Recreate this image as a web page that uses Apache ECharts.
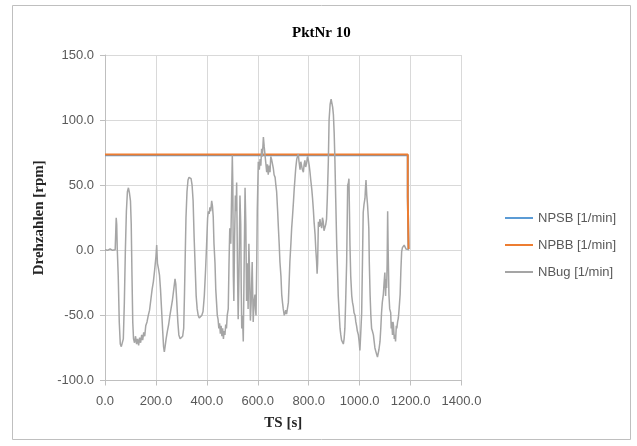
<!DOCTYPE html>
<html>
<head>
<meta charset="utf-8">
<script src="https://cdn.jsdelivr.net/npm/echarts@6/dist/echarts.min.js"></script>
<style>
html,body{margin:0;padding:0;background:#fff;}
#chart{width:637px;height:446px;}
</style>
</head>
<body>
<div id="chart"></div>
<script>
// ---- data ----
var titleText = 'PktNr 10';
var seriesNames = ['NPSB [1/min]', 'NPBB [1/min]', 'NBug [1/min]'];
var xTicks = [0, 200, 400, 600, 800, 1000, 1200, 1400];
var yTicks = [-100, -50, 0, 50, 100, 150];

var npsbT = [0, 1189, 1189, 1192, 1192];
var npsbV = [73.0, 73.0, 41, 41, 1];
var npbbT = [0, 1189, 1189, 1192, 1192];
var npbbV = [73.5, 73.5, 41, 41, 1];

var nbugT = [0,10,20,30,40,43,44,46,48,52,56,60,64,68,72,76,80,84,88,92,96,100,103,106,109,112,116,120,124,128,132,136,140,144,148,152,156,160,165,170,175,180,185,190,195,200,203,206,210,214,218,222,226,230,233,236,240,245,250,255,260,265,270,275,278,282,286,290,295,300,305,309,312,315,318,322,326,330,334,338,342,346,350,354,358,362,366,370,375,380,385,390,395,399,403,406,409,412,415,419,422,425,428,432,435,438,441,444,447,450,453,456,459,462,465,468,471,474,477,480,484,487,490,494,497,500,502,504,506,509,512,515,517,520,523,526,530,533,535,537,540,543,546,550,553,556,559,562,565,568,571,574,578,582,585,589,591,593,596,598,602,606,609,612,615,618,622,625,628,631,635,638,641,645,648,651,654,658,661,664,668,671,674,678,681,684,687,691,694,697,700,704,707,710,713,717,720,723,726,730,733,736,740,743,746,749,753,756,759,762,766,769,772,775,779,782,785,788,792,795,798,802,805,808,812,815,818,821,825,828,831,833,835,838,841,844,847,851,854,857,860,864,867,870,873,877,880,884,888,891,894,897,900,903,906,910,913,916,920,923,926,929,933,936,939,942,945,949,951,953,956,958,960,962,965,969,972,975,978,982,985,988,991,995,998,1001,1004,1008,1011,1014,1017,1021,1023,1025,1028,1031,1034,1036,1038,1041,1044,1047,1050,1054,1057,1060,1064,1067,1070,1073,1076,1080,1083,1086,1089,1093,1096,1099,1102,1104,1106,1108,1110,1112,1115,1118,1122,1124,1126,1129,1131,1133,1136,1139,1141,1144,1146,1149,1152,1155,1159,1162,1165,1168,1172,1175,1178,1182,1185,1188,1191,1193];
var nbugV = [0.5,0,1,0,0.5,1,25,20,2,-20,-55,-72,-74,-73,-68,-40,0,30,45,48,44,38,20,-20,-55,-68,-71,-66,-72,-68,-73,-67,-71,-65,-69,-63,-66,-58,-55,-50,-46,-38,-30,-24,-15,-5,4,-10,-14,-19,-30,-45,-60,-74,-78,-74,-68,-62,-57,-50,-44,-38,-30,-22,-26,-40,-55,-65,-68,-67,-66,-60,-35,-5,25,45,54,56,56,55,50,38,10,-12,-35,-45,-50,-52,-52,-50,-47,-35,-15,4,25,30,28,33,30,38,34,26,5,-10,-30,-40,-50,-53,-60,-56,-64,-58,-66,-60,-68,-62,-65,-57,-60,-50,-45,-10,17,5,40,73,50,-20,-39,10,42,30,52,-10,-53,-20,42,20,-30,-60,-50,-70,-20,48,20,-39,-10,-45,5,-20,-54,-40,-9,-55,-40,-34,-45,-50,-9,30,68,62,70,65,78,72,87,80,74,68,60,66,58,65,60,72,70,66,63,58,56,50,45,30,17,5,-9,-20,-34,-40,-45,-50,-51,-46,-49,-44,-40,-25,-9,5,17,25,37,47,55,63,70,72,74,68,62,68,67,62,60,66,69,64,67,72,70,65,60,54,47,40,32,22,12,0,-9,-18,-10,22,18,24,20,17,25,22,15,14,20,24,40,68,100,112,116,115,110,104,90,68,40,4,-15,-35,-50,-60,-65,-69,-70,-72,-68,-60,-40,-9,20,50,52,55,30,4,-20,-35,-40,-43,-48,-50,-55,-58,-62,-65,-70,-77,-65,-48,-10,29,35,40,48,54,42,35,25,17,-10,-34,-50,-60,-62,-65,-70,-75,-78,-80,-82,-83,-76,-70,-60,-48,-40,-34,-25,-17,-35,-22,-29,-10,30,0,-34,-45,-48,-60,-55,-65,-55,-58,-68,-65,-70,-58,-60,-55,-52,-45,-34,-15,-1,2,3,4,3,1,2,0,0.5,0];

function pairs(t, v) { return t.map(function (x, i) { return [x, v[i]]; }); }

var chart = echarts.init(document.getElementById('chart'), null, {renderer: 'canvas'});
var tickFont = {fontFamily: 'Liberation Sans', fontSize: 13, color: '#595959'};
chart.setOption({
  animation: false,
  backgroundColor: '#fff',
  graphic: [{
    type: 'rect', shape: {x: 12.5, y: 5.5, width: 618, height: 434},
    style: {fill: 'none', stroke: '#BFBFBF', lineWidth: 1}, z: -1
  }],
  title: {
    text: titleText, left: 287, top: 21,
    textStyle: {fontFamily: 'Liberation Serif', fontWeight: 'bold', fontSize: 15, color: '#000'}
  },
  legend: {
    orient: 'vertical', left: 500, top: 206,
    icon: 'rect', itemWidth: 28, itemHeight: 2, itemGap: 13,
    textStyle: {fontFamily: 'Liberation Sans', fontSize: 13, lineHeight: 14, color: '#595959'},
    data: seriesNames
  },
  grid: {left: 105, right: 175.5, top: 55, bottom: 65.5, containLabel: false},
  xAxis: {
    type: 'value', min: xTicks[0], max: xTicks[xTicks.length - 1], interval: 200,
    name: 'TS [s]', nameLocation: 'middle', nameGap: 35,
    nameTextStyle: {fontFamily: 'Liberation Serif', fontWeight: 'bold', fontSize: 15, color: '#262626'},
    axisLine: {show: true, onZero: false, lineStyle: {color: '#BFBFBF'}},
    axisTick: {show: true, length: 5, lineStyle: {color: '#BFBFBF'}},
    axisLabel: Object.assign({margin: 14, formatter: function (v) { return v.toFixed(1); }}, tickFont),
    splitLine: {show: true, lineStyle: {color: '#D9D9D9'}}
  },
  yAxis: {
    type: 'value', min: yTicks[0], max: yTicks[yTicks.length - 1], interval: 50,
    name: 'Drehzahlen [rpm]', nameLocation: 'middle', nameGap: 49, nameRotate: 90,
    nameTextStyle: {fontFamily: 'Liberation Serif', fontWeight: 'bold', fontSize: 15, color: '#262626'},
    axisLine: {show: true, lineStyle: {color: '#BFBFBF'}},
    axisTick: {show: true, length: 5, lineStyle: {color: '#BFBFBF'}},
    axisLabel: Object.assign({margin: 11, formatter: function (v) { return v.toFixed(1); }}, tickFont),
    splitLine: {show: true, lineStyle: {color: '#D9D9D9'}}
  },
  series: [
    {name: seriesNames[0], type: 'line', symbol: 'none', data: pairs(npsbT, npsbV),
     lineStyle: {color: '#5B9BD5', width: 2}, itemStyle: {color: '#5B9BD5'}, z: 2},
    {name: seriesNames[1], type: 'line', symbol: 'none', data: pairs(npbbT, npbbV),
     lineStyle: {color: '#ED7D31', width: 2}, itemStyle: {color: '#ED7D31'}, z: 3},
    {name: seriesNames[2], type: 'line', symbol: 'none', data: pairs(nbugT, nbugV),
     lineStyle: {color: '#A5A5A5', width: 1.5}, itemStyle: {color: '#A5A5A5'}, z: 4}
  ]
});
</script>
</body>
</html>
